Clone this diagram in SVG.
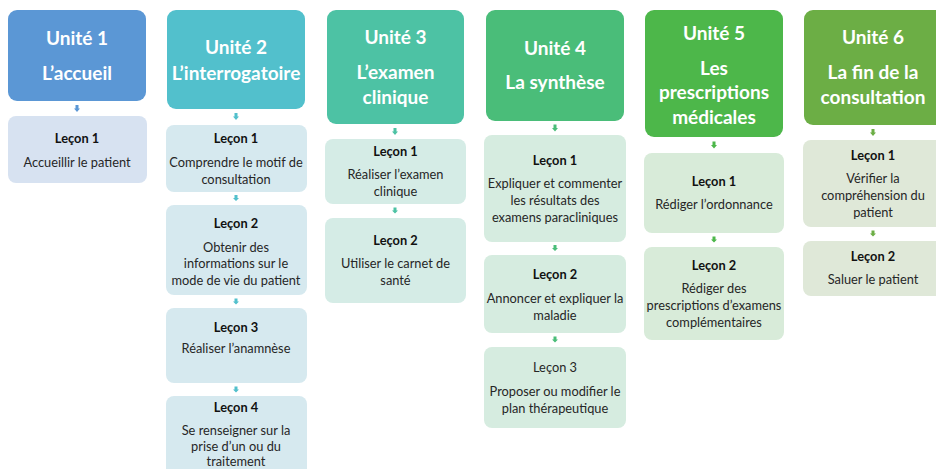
<svg xmlns="http://www.w3.org/2000/svg" width="936" height="469" viewBox="0 0 936 469">
<defs>
<style>
.u{font-family:Lato,"Open Sans","Liberation Sans",sans-serif;font-weight:bold;font-size:19px;fill:#fff;text-anchor:middle}
.t{font-family:Lato,"Open Sans","Liberation Sans",sans-serif;font-size:12.8px;fill:#262626;text-anchor:middle}
.b{font-weight:bold;fill:#111}
.c1{fill:#5b97d5}.c2{fill:#52c0cc}.c3{fill:#4dc2a4}.c4{fill:#4abd79}.c5{fill:#4db74a}.c6{fill:#6cae45}
.l1{fill:#d7e2f1}.l2{fill:#d6e9ef}.l3{fill:#d5ece6}.l4{fill:#d6ece0}.l5{fill:#d8ebd9}.l6{fill:#dfe8d8}
</style>
</defs>
<rect width="936" height="469" fill="#fff"/>
<g id="connectors">
<path class="c1" d="M75.5,105h3v3.5h1.5l-3,3.5l-3,-3.5h1.5z"/>
<path class="c2" d="M234.5,113h3v3.5h1.5l-3,3.5l-3,-3.5h1.5z"/>
<path class="c2" d="M234.5,195h3v3h1.5l-3,3l-3,-3h1.5z"/>
<path class="c2" d="M234.5,298.5h3v3h1.5l-3,3l-3,-3h1.5z"/>
<path class="c2" d="M234.5,386.5h3v3h1.5l-3,3l-3,-3h1.5z"/>
<path class="c3" d="M393.5,128h3v3.5h1.5l-3,3.5l-3,-3.5h1.5z"/>
<path class="c3" d="M393.5,207.5h3v3h1.5l-3,3l-3,-3h1.5z"/>
<path class="c4" d="M553.5,124.5h3v3.5h1.5l-3,3.5l-3,-3.5h1.5z"/>
<path class="c4" d="M553.5,245h3v3h1.5l-3,3l-3,-3h1.5z"/>
<path class="c4" d="M553.5,336.5h3v3h1.5l-3,3l-3,-3h1.5z"/>
<path class="c5" d="M712.5,141.5h3v3.5h1.5l-3,3.5l-3,-3.5h1.5z"/>
<path class="c5" d="M712.5,236.5h3v3h1.5l-3,3l-3,-3h1.5z"/>
<path class="c6" d="M871.5,129h3v3.5h1.5l-3,3.5l-3,-3.5h1.5z"/>
<path class="c6" d="M871.5,230.5h3v3h1.5l-3,3l-3,-3h1.5z"/>
</g>
<g id="unit1">
<rect class="c1" x="8" y="10" width="138" height="91" rx="9"/>
<text class="u" x="77" y="45">Unité 1</text>
<text class="u" x="77" y="80">L’accueil</text>
</g>
<g id="u1-lecon1">
<rect class="l1" x="8" y="116" width="139" height="67" rx="8"/>
<text class="t b" x="77" y="142.5">Leçon 1</text>
<text class="t" x="77" y="166.5">Accueillir le patient</text>
</g>
<g id="unit2">
<rect class="c2" x="167" y="10" width="138" height="99" rx="9"/>
<text class="u" x="236" y="54">Unité 2</text>
<text class="u" x="236" y="80">L’interrogatoire</text>
</g>
<g id="u2-lecon1">
<rect class="l2" x="166" y="125" width="141" height="67" rx="8"/>
<text class="t b" x="236" y="143">Leçon 1</text>
<text class="t" x="236" y="166.5">Comprendre le motif de</text>
<text class="t" x="236" y="183.5">consultation</text>
</g>
<g id="u2-lecon2">
<rect class="l2" x="166" y="205" width="141" height="90" rx="8"/>
<text class="t b" x="236" y="227.5">Leçon 2</text>
<text class="t" x="236" y="251.5">Obtenir des</text>
<text class="t" x="236" y="268">informations sur le</text>
<text class="t" x="236" y="285">mode de vie du patient</text>
</g>
<g id="u2-lecon3">
<rect class="l2" x="166" y="308" width="141" height="75" rx="8"/>
<text class="t b" x="236" y="331.5">Leçon 3</text>
<text class="t" x="236" y="352.5">Réaliser l’anamnèse</text>
</g>
<g id="u2-lecon4">
<rect class="l2" x="166" y="396" width="141" height="82" rx="8"/>
<text class="t b" x="236" y="412">Leçon 4</text>
<text class="t" x="236" y="434.5">Se renseigner sur la</text>
<text class="t" x="236" y="451">prise d’un ou du</text>
<text class="t" x="236" y="466">traitement</text>
</g>
<g id="unit3">
<rect class="c3" x="327" y="10" width="137" height="114" rx="9"/>
<text class="u" x="395.5" y="44">Unité 3</text>
<text class="u" x="395.5" y="79">L’examen</text>
<text class="u" x="395.5" y="104">clinique</text>
</g>
<g id="u3-lecon1">
<rect class="l3" x="325" y="139" width="141" height="65" rx="8"/>
<text class="t b" x="395.5" y="155.5">Leçon 1</text>
<text class="t" x="395.5" y="178.5">Réaliser l’examen</text>
<text class="t" x="395.5" y="195.5">clinique</text>
</g>
<g id="u3-lecon2">
<rect class="l3" x="325" y="218" width="141" height="85" rx="8"/>
<text class="t b" x="395.5" y="244.5">Leçon 2</text>
<text class="t" x="395.5" y="267.5">Utiliser le carnet de</text>
<text class="t" x="395.5" y="285">santé</text>
</g>
<g id="unit4">
<rect class="c4" x="486" y="10" width="138" height="111" rx="9"/>
<text class="u" x="555" y="55">Unité 4</text>
<text class="u" x="555" y="89">La synthèse</text>
</g>
<g id="u4-lecon1">
<rect class="l4" x="484" y="135" width="142" height="107" rx="8"/>
<text class="t b" x="555" y="164.5">Leçon 1</text>
<text class="t" x="555" y="187.5">Expliquer et commenter</text>
<text class="t" x="555" y="204.5">les résultats des</text>
<text class="t" x="555" y="221.5">examens paracliniques</text>
</g>
<g id="u4-lecon2">
<rect class="l4" x="484" y="255" width="142" height="78" rx="8"/>
<text class="t b" x="555" y="279">Leçon 2</text>
<text class="t" x="555" y="302.5">Annoncer et expliquer la</text>
<text class="t" x="555" y="319.5">maladie</text>
</g>
<g id="u4-lecon3">
<rect class="l4" x="484" y="347" width="142" height="81" rx="8"/>
<text class="t" x="555" y="372">Leçon 3</text>
<text class="t" x="555" y="395.5">Proposer ou modifier le</text>
<text class="t" x="555" y="412.5">plan thérapeutique</text>
</g>
<g id="unit5">
<rect class="c5" x="645" y="10" width="138" height="127" rx="9"/>
<text class="u" x="714" y="40">Unité 5</text>
<text class="u" x="714" y="75">Les</text>
<text class="u" x="714" y="99">prescriptions</text>
<text class="u" x="714" y="124">médicales</text>
</g>
<g id="u5-lecon1">
<rect class="l5" x="644" y="153" width="140" height="80" rx="8"/>
<text class="t b" x="714" y="185.5">Leçon 1</text>
<text class="t" x="714" y="209">Rédiger l’ordonnance</text>
</g>
<g id="u5-lecon2">
<rect class="l5" x="644" y="247" width="140" height="93" rx="8"/>
<text class="t b" x="714" y="269.5">Leçon 2</text>
<text class="t" x="714" y="292.5">Rédiger des</text>
<text class="t" x="714" y="310">prescriptions d’examens</text>
<text class="t" x="714" y="327">complémentaires</text>
</g>
<g id="unit6">
<rect class="c6" x="804" y="10" width="140" height="115" rx="9"/>
<text class="u" x="873" y="44">Unité 6</text>
<text class="u" x="873" y="79">La fin de la</text>
<text class="u" x="873" y="104">consultation</text>
</g>
<g id="u6-lecon1">
<rect class="l6" x="803" y="140" width="141" height="87" rx="8"/>
<text class="t b" x="873" y="159.5">Leçon 1</text>
<text class="t" x="873" y="182.5">Vérifier la</text>
<text class="t" x="873" y="200">compréhension du</text>
<text class="t" x="873" y="217">patient</text>
</g>
<g id="u6-lecon2">
<rect class="l6" x="803" y="241" width="141" height="55" rx="8"/>
<text class="t b" x="873" y="260.5">Leçon 2</text>
<text class="t" x="873" y="283.5">Saluer le patient</text>
</g>
</svg>
